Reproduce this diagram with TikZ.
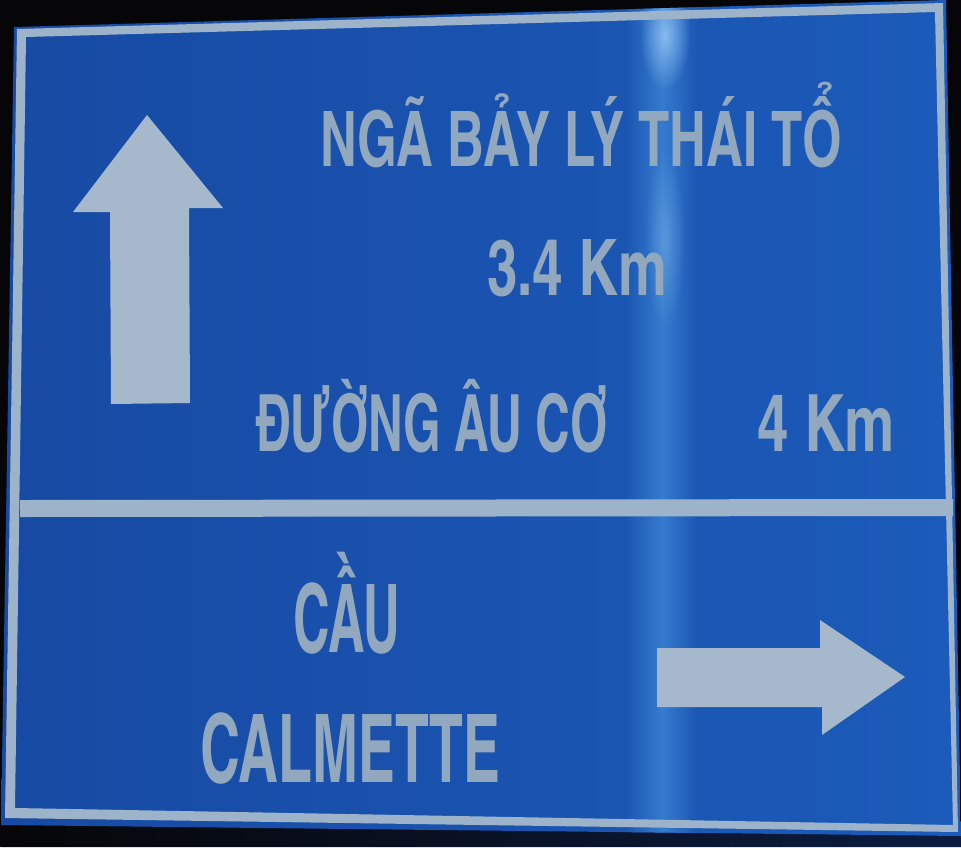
\documentclass[tikz,border=0pt]{standalone}
\usepackage{fontspec}
\usetikzlibrary{fadings}
\newfontfamily\signfont{texgyreheroscn-bold.otf}
\definecolor{bg}{HTML}{060608}
\definecolor{bluel}{HTML}{174AA3}
\definecolor{bluer}{HTML}{1C5BBA}
\definecolor{bluemid}{HTML}{1B56B3}
\definecolor{rim}{HTML}{9DB3C9}
\definecolor{ink}{HTML}{92A8BE}
\definecolor{arrowc}{HTML}{A6B9CC}
\definecolor{streak}{HTML}{357BCE}
\definecolor{glow}{HTML}{9CCBF8}
\definecolor{navy}{HTML}{0C1C40}
\tikzfading[name=glowfade, inner color=transparent!20, outer color=transparent!100]
\newcommand{\fitto}[3]{\resizebox{#1pt}{\height}{\fontsize{#2pt}{#2pt}\selectfont #3}}
\begin{document}
\begin{tikzpicture}[x=1pt,y=-1pt,
  signtext/.style={anchor=base west, inner sep=0pt, outer sep=0pt, text=ink, font=\signfont},
  arrowshape/.style={fill=arrowc}]
\useasboundingbox (0,0) rectangle (961,847);
\fill[bg] (0,0) rectangle (961,847);
\shade[left color=bg, right color=navy] (1,825) -- (961,836) -- (961,847) -- (1,847) -- cycle;
\begin{scope}
  \clip (14,27) -- (946,0) -- (961,836) -- (1,825) -- cycle;
  \shade[left color=bluel, right color=bluer] (0,0) rectangle (961,847);
  \shade[left color=bluemid, right color=streak] (626,0) rectangle (662,847);
  \shade[left color=streak, right color=bluemid] (662,0) rectangle (698,847);
  \fill[glow, path fading=glowfade] (640,-20) rectangle (690,90);
  \fill[glow, path fading=glowfade, opacity=0.45] (645,150) rectangle (685,330);
\end{scope}
% white border
\fill[rim, even odd rule] (17,29) -- (943,3) -- (958,832) -- (5,818) -- cycle
  (26,37) -- (935,12) -- (953,825) -- (15,808) -- cycle;
% divider
\fill[rim] (20,500) -- (953,499) -- (953,516) -- (20,517) -- cycle;
% arrows
\fill[arrowshape] (147,115) -- (223,208) -- (189,208) -- (190,403) -- (111,404) -- (110,212) -- (73,212) -- cycle;
\fill[arrowshape] (657,648) -- (820,648) -- (820,620) -- (905,677) -- (822,735) -- (822,707) -- (657,707) -- cycle;
% texts
\node[signtext] (l1) at (320,166) {\fitto{522}{76.6}{NGÃ BẢY LÝ THÁI TỔ}};
\node[signtext] (l2) at (487,295) {\fitto{180}{78}{3.4 Km}};
\node[signtext] (l3) at (256,451) {\fitto{352}{79}{ĐƯỜNG ÂU CƠ}};
\node[signtext] (l3b) at (757,451) {\fitto{138}{79}{4 Km}};
\node[signtext] (l4) at (293,652) {\fitto{107}{94.7}{CẦU}};
\node[signtext] (l5) at (200,782) {\fitto{300}{94.7}{CALMETTE}};
\end{tikzpicture}
\end{document}
